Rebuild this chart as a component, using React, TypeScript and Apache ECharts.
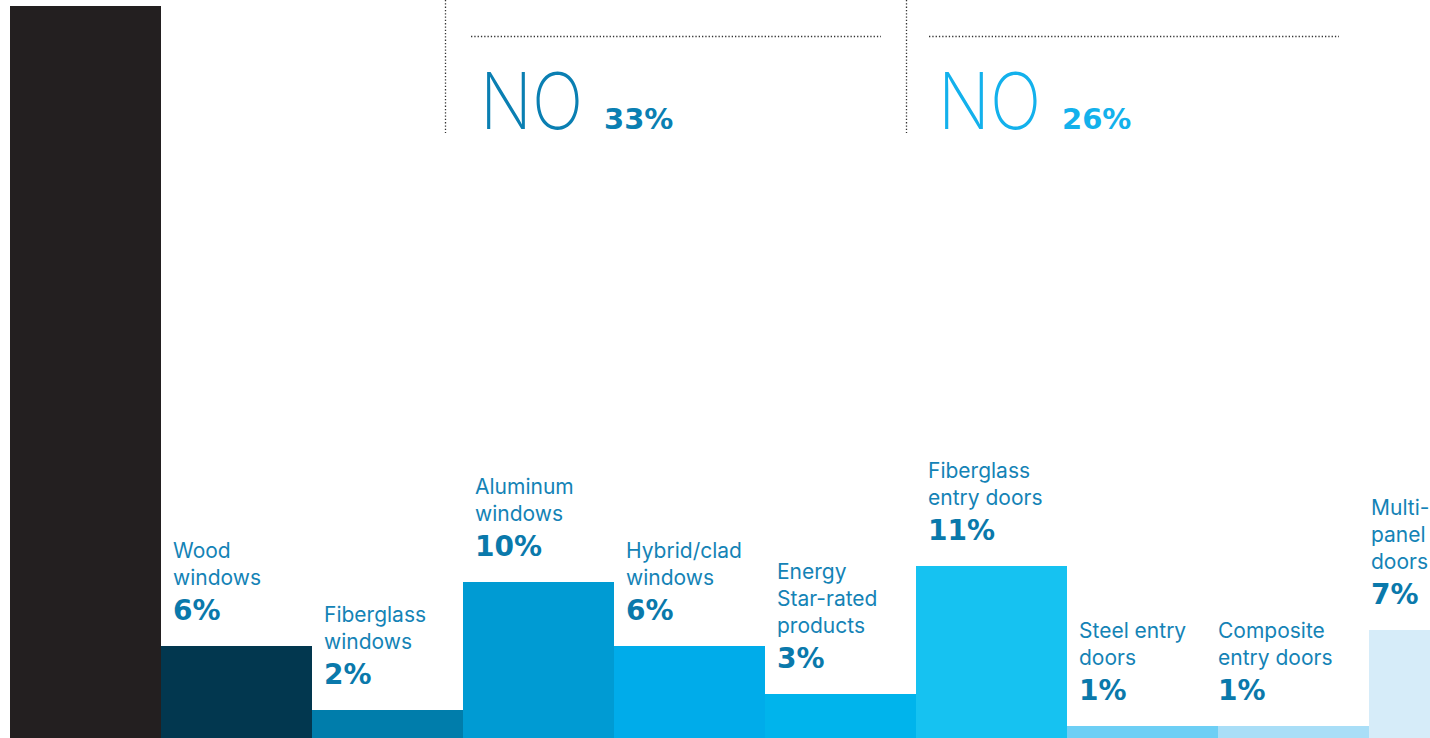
import React, { useEffect, useRef } from "react";
import * as echarts from "echarts";

const categories = [
  "",
  "Wood\nwindows",
  "Fiberglass\nwindows",
  "Aluminum\nwindows",
  "Hybrid/clad\nwindows",
  "Energy\nStar-rated\nproducts",
  "Fiberglass\nentry doors",
  "Steel entry\ndoors",
  "Composite\nentry doors",
  "Multi-\npanel\ndoors",
];
const values = [46, 6, 2, 10, 6, 3, 11, 1, 1, 7];
const barColors = [
  "#231f20",
  "#02374f",
  "#007dab",
  "#009bd3",
  "#00acea",
  "#00b4ec",
  "#16c2f1",
  "#6dcff5",
  "#a9def7",
  "#d6ecf9",
];
const labelInset = [0, 12, 12, 12, 12, 12, 12, 12, 0, 2];
const headerWords = ["NO", "NO"];
const headerValues = ["33%", "26%"];

export default function App() {
  const ref = useRef<HTMLDivElement>(null);
  useEffect(() => {
    if (!ref.current) return;
    const chart = echarts.init(ref.current, null, { renderer: "svg" });
    const nameColor = "#1483b6";
    const pctColor = "#0a79ab";
    const data = values.map((v, i) => {
      const lines = categories[i] ? categories[i].split("\n") : [];
      const text =
        i === 0
          ? ""
          : lines.map((l) => `{n|${l}}`).join("\n") + `\n{p|${v}%}`;
      return {
        value: v,
        itemStyle: { color: barColors[i] },
        label: {
          show: i !== 0,
          position: [labelInset[i], -16.5],
          align: "left",
          verticalAlign: "bottom",
          formatter: text,
          rich: {
            n: {
              fontFamily: "Inter",
              fontSize: 21,
              lineHeight: 27,
              color: nameColor,
            },
            p: {
              fontFamily: "DejaVu Sans",
              fontWeight: "bold",
              fontSize: 28,
              lineHeight: 39,
              color: pctColor,
            },
          },
        },
      };
    });
    const dotted = { stroke: "#333", lineWidth: 1.3, lineDash: [1.3, 2] };
    const headerColors = ["#0a7fb2", "#13b1ec"];
    const headerX = [483, 941];
    const graphic: any[] = [
      { type: "line", shape: { x1: 445.5, y1: 0, x2: 445.5, y2: 133 }, style: dotted },
      { type: "line", shape: { x1: 906.5, y1: 0, x2: 906.5, y2: 133 }, style: dotted },
      { type: "line", shape: { x1: 471, y1: 36.5, x2: 881, y2: 36.5 }, style: dotted },
      { type: "line", shape: { x1: 929, y1: 36.5, x2: 1339, y2: 36.5 }, style: dotted },
    ];
    headerWords.forEach((w, i) => {
      graphic.push({
        type: "text",
        x: headerX[i] - 3,
        y: 101,
        scaleX: 0.87,
        style: {
          text: w,
          fill: headerColors[i],
          font: "200 78px Inter",
          verticalAlign: "middle",
          align: "left",
        },
      });
      graphic.push({
        type: "text",
        x: headerX[i] + 121,
        y: 119,
        style: {
          text: headerValues[i],
          fill: headerColors[i],
          font: "bold 29px 'DejaVu Sans'",
          verticalAlign: "middle",
          align: "left",
        },
      });
    });
    chart.setOption({
      animation: false,
      grid: { left: 10, right: 0, top: 6, bottom: 0 },
      xAxis: { type: "category", data: categories, show: false },
      yAxis: { type: "value", min: 0, max: 46, show: false },
      series: [
        {
          type: "bar",
          data,
          barWidth: "100%",
          barCategoryGap: 0,
        },
      ],
      graphic,
    });
    return () => chart.dispose();
  }, []);
  return (
    <div
      style={{
        position: "absolute",
        left: 0,
        top: 0,
        width: 1430,
        height: 738,
        overflow: "hidden",
      }}
    >
      <div ref={ref} style={{ width: 1520, height: 742 }} />
    </div>
  );
}
